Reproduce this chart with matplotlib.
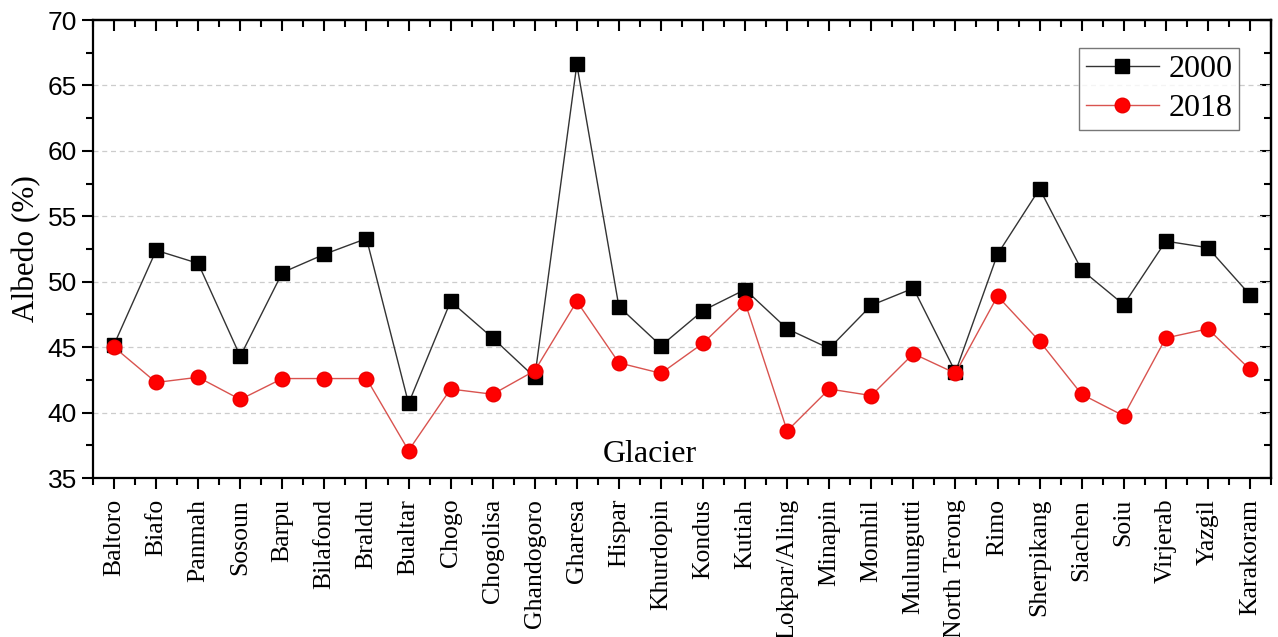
import matplotlib
matplotlib.use("Agg")
import matplotlib.pyplot as plt
from matplotlib.ticker import MultipleLocator, FixedLocator

glaciers = ["Baltoro", "Biafo", "Panmah", "Sosoun", "Barpu", "Bilafond", "Braldu",
            "Bualtar", "Chogo", "Chogolisa", "Ghandogoro", "Gharesa", "Hispar",
            "Khurdopin", "Kondus", "Kutiah", "Lokpar/Aling", "Minapin", "Momhil",
            "Mulungutti", "North Terong", "Rimo", "Sherpikang", "Siachen", "Soiu",
            "Virjerab", "Yazgil", "Karakoram"]
albedo_2000 = [45.2, 52.4, 51.4, 44.3, 50.7, 52.1, 53.3, 40.7, 48.5, 45.7, 42.7, 66.6,
               48.1, 45.1, 47.8, 49.4, 46.4, 44.9, 48.2, 49.5, 43.1, 52.1, 57.1, 50.9,
               48.25, 53.1, 52.6, 49.0]
albedo_2018 = [45.0, 42.3, 42.7, 41.0, 42.6, 42.6, 42.6, 37.1, 41.8, 41.4, 43.2, 48.5,
               43.8, 43.0, 45.3, 48.4, 38.6, 41.8, 41.3, 44.5, 43.0, 48.9, 45.45, 41.4,
               39.75, 45.7, 46.4, 43.3]

serif = ["Liberation Serif", "DejaVu Serif"]
sans = ["Liberation Sans", "DejaVu Sans"]

fig = plt.figure(figsize=(12.78, 6.37), dpi=100)
ax = fig.add_axes([0.0728, 0.2496, 0.9217, 0.719])

x = list(range(len(glaciers)))
ax.plot(x, albedo_2000, color="#333333", lw=1.0, marker="s", markersize=9.5,
        markerfacecolor="black", markeredgecolor="black", label="2000", zorder=3)
ax.plot(x, albedo_2018, color="#d9534f", lw=1.0, marker="o", markersize=10.5,
        markerfacecolor="#ff0000", markeredgecolor="#ee0000", label="2018", zorder=3)

ax.set_xlim(-0.5, len(glaciers) - 0.5)
ax.set_ylim(35, 70)

ax.yaxis.set_major_locator(MultipleLocator(5))
ax.yaxis.set_minor_locator(MultipleLocator(2.5))
ax.xaxis.set_major_locator(FixedLocator(x))
ax.xaxis.set_minor_locator(FixedLocator([i + 0.5 for i in range(-1, len(glaciers))]))

ax.set_xticklabels(glaciers, rotation=90, fontfamily=serif, fontsize=18.5)
for lab in ax.get_yticklabels():
    lab.set_fontfamily(sans)
    lab.set_fontsize(19)

ax.tick_params(axis="both", which="major", length=8, width=1.5, direction="out",
               top=False, right=False)
ax.tick_params(axis="both", which="minor", length=5, width=1.5, direction="out")
ax.tick_params(axis="x", which="major", pad=7)

# mirrored inward ticks on top and right
axt = ax.secondary_xaxis("top")
axt.xaxis.set_major_locator(FixedLocator(x))
axt.xaxis.set_minor_locator(FixedLocator([i + 0.5 for i in range(-1, len(glaciers))]))
axt.tick_params(which="major", direction="in", length=8, width=1.5, labeltop=False)
axt.tick_params(which="minor", direction="in", length=5, width=1.5)
axr = ax.secondary_yaxis("right")
axr.yaxis.set_major_locator(MultipleLocator(5))
axr.yaxis.set_minor_locator(MultipleLocator(2.5))
axr.tick_params(which="major", direction="in", length=8, width=1.5, labelright=False)
axr.tick_params(which="minor", direction="in", length=5, width=1.5)

for s in ax.spines.values():
    s.set_linewidth(1.6)
axt.spines["top"].set_linewidth(1.6)
axr.spines["right"].set_linewidth(1.6)

for v in [40, 45, 50, 55, 60, 65]:
    ax.axhline(v, color="#cccccc", lw=0.9, ls=(0, (4, 3)), zorder=1)

ax.set_ylabel("Albedo (%)", fontfamily=serif, fontsize=22.5, labelpad=5)
ax.text(0.473, 0.052, "Glacier", transform=ax.transAxes, ha="center", va="center",
        fontfamily=serif, fontsize=23)

leg = ax.legend(loc="upper right", bbox_to_anchor=(0.973, 0.939), frameon=True,
                fancybox=False, edgecolor="#555555", prop={"family": serif, "size": 23},
                handlelength=2.3, handletextpad=0.3, borderpad=0.2, labelspacing=0.32,
                borderaxespad=0)
leg.get_frame().set_linewidth(1.0)

fig.savefig("out.png", dpi=100)
